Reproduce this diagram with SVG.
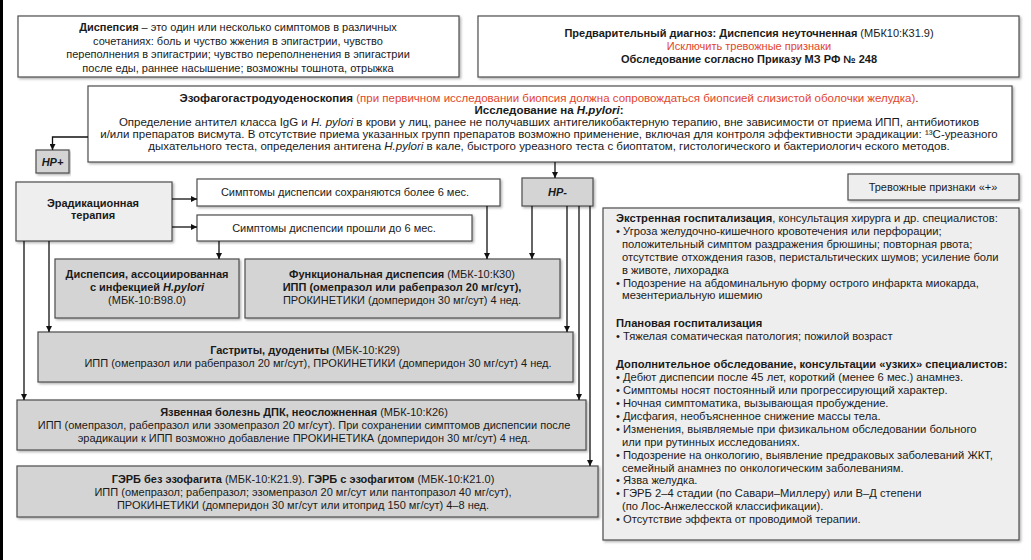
<svg xmlns="http://www.w3.org/2000/svg" width="1031" height="560" viewBox="0 0 1031 560">
<defs>
<marker id="ah" viewBox="0 0 10 10" refX="10" refY="5" markerWidth="6" markerHeight="6" markerUnits="userSpaceOnUse" orient="auto">
<path d="M0,0 L10,5 L0,10 z" fill="#111"/>
</marker>
<filter id="sh" x="-5%" y="-5%" width="110%" height="120%">
<feDropShadow dx="1.5" dy="1.5" stdDeviation="1" flood-color="#000" flood-opacity="0.3"/>
</filter>
<style>
text{font-family:"Liberation Sans",Arial,sans-serif;font-size:11px;fill:#1a1a1a}
.b{font-weight:bold}
.i{font-style:italic}
.r{fill:#e2452b}
.c{text-anchor:middle}
.m{font-size:11.5px}
.rt{font-size:11.2px}
.box{stroke:#4d4d4d;stroke-width:1.2;filter:url(#sh)}
.w{fill:#fff}
.g{fill:#d4d4d4}
.lg{fill:#eeeeee}
.conn path{fill:none;stroke:#111;stroke-width:1.3;marker-end:url(#ah)}
</style>
</defs>
<rect x="0" y="0" width="1031" height="560" fill="#fff"/>
<rect x="0" y="0" width="3" height="560" fill="#000"/>

<g id="definition">
<rect class="box w" x="18" y="16" width="441" height="61"/>
<text class="c" x="238" y="31"><tspan class="b">Диспепсия</tspan> – это один или несколько симптомов в различных</text>
<text class="c" x="238" y="44.5">сочетаниях: боль и чуство жжения в эпигастрии, чувство</text>
<text class="c" x="238" y="58">переполнения в эпигастрии; чувство переполненения в эпигастрии</text>
<text class="c" x="238" y="71.5">после еды, раннее насышение; возможны тошнота, отрыжка</text>
</g>

<g id="prelim">
<rect class="box w" x="478" y="16" width="541" height="61"/>
<text class="c" x="749" y="37"><tspan class="b">Предварительный диагноз: Диспепсия неуточненная</tspan> (МБК10:К31.9)</text>
<text class="c r" x="749" y="50">Исключить тревожные признаки</text>
<text class="c b" x="749" y="63">Обследование согласно Приказу МЗ РФ № 248</text>
</g>

<g id="egds">
<rect class="box w" x="88" y="86" width="924" height="76"/>
<text class="c m" x="549" y="102"><tspan class="b">Эзофагогастродуоденоскопия</tspan><tspan class="r"> (при первичном исследовании биопсия должна сопровождаться биопсией слизистой оболочки желудка)</tspan>.</text>
<text class="c m b" x="549" y="114">Исследование на <tspan class="i">H.pylori</tspan>:</text>
<text class="c m" x="549" y="126">Определение антител класса IgG и <tspan class="i">H. pylori</tspan> в крови у лиц, ранее не получавших антигеликобактерную терапию, вне зависимости от приема ИПП, антибиотиков</text>
<text class="c m" x="549" y="138">и/или препаратов висмута. В отсутствие приема указанных групп препаратов возможно применение, включая для контроля эффективности эрадикации: ¹³С-уреазного</text>
<text class="c m" x="549" y="150">дыхательного теста, определения антигена <tspan class="i">H.pylori</tspan> в кале, быстрого уреазного теста с биоптатом, гистологического и бактериологич еского методов.</text>
</g>

<g id="hp-plus">
<rect class="box g" x="36" y="150" width="33" height="23"/>
<text class="c b i" x="52.5" y="165.5">HP+</text>
</g>

<g id="hp-minus">
<rect class="box g" x="522" y="178" width="71" height="28"/>
<text class="c b i" x="557.5" y="196">HP-</text>
</g>

<g id="eradication">
<rect class="box lg" x="16" y="182" width="156" height="59"/>
<text class="c b" x="93" y="207">Эрадикационная</text>
<text class="c b" x="93" y="219">терапия</text>
</g>

<g id="symptoms-persist">
<rect class="box w" x="197" y="179" width="303" height="27"/>
<text class="c" x="345" y="196">Симптомы диспепсии сохраняются более 6 мес.</text>
</g>

<g id="symptoms-gone">
<rect class="box w" x="197" y="215" width="275" height="26"/>
<text class="c" x="334" y="232">Симптомы диспепсии прошли до 6 мес.</text>
</g>

<g id="hp-dyspepsia">
<rect class="box g" x="55" y="259" width="184" height="59"/>
<text class="c b" x="147" y="278">Диспепсия, ассоциированная</text>
<text class="c b" x="147" y="291">с инфекцией <tspan class="i">H.pylori</tspan></text>
<text class="c" x="147" y="304">(МБК-10:B98.0)</text>
</g>

<g id="functional">
<rect class="box g" x="245" y="259" width="315" height="59"/>
<text class="c" x="402" y="278"><tspan class="b">Функциональная диспепсия</tspan> (МБК-10:К30)</text>
<text class="c b" x="402" y="291">ИПП (омепразол или рабепразол 20 мг/сут),</text>
<text class="c" x="402" y="304">ПРОКИНЕТИКИ (домперидон 30 мг/сут) 4 нед.</text>
</g>

<g id="gastritis">
<rect class="box g" x="38" y="332" width="535" height="50"/>
<text class="c" x="305" y="354"><tspan class="b">Гастриты, дуодениты</tspan> (МБК-10:К29)</text>
<text class="c" x="318" y="367">ИПП (омепразол или рабепразол 20 мг/сут), ПРОКИНЕТИКИ (домперидон 30 мг/сут) 4 нед.</text>
</g>

<g id="ulcer">
<rect class="box g" x="17" y="400" width="569" height="50"/>
<text class="c" x="304" y="416"><tspan class="b">Язвенная болезнь ДПК, неосложненная</tspan> (МБК-10:К26)</text>
<text class="c" x="304" y="429">ИПП (омепразол, рабепразол или эзомепразол 20 мг/сут). При сохранении симптомов диспепсии после</text>
<text class="c" x="304" y="442">эрадикации к ИПП возможно добавление ПРОКИНЕТИКА (домперидон 30 мг/сут) 4 нед.</text>
</g>

<g id="gerd">
<rect class="box g" x="17" y="466" width="581" height="51"/>
<text class="c" x="303" y="483"><tspan class="b">ГЭРБ без эзофагита</tspan> (МБК-10:К21.9). <tspan class="b">ГЭРБ с эзофагитом</tspan> (МБК-10:К21.0)</text>
<text class="c" x="303" y="496">ИПП (омепразол; рабепразол; эзомепразол 20 мг/сут или пантопразол 40 мг/сут),</text>
<text class="c" x="303" y="509">ПРОКИНЕТИКИ (домперидон 30 мг/сут или итоприд 150 мг/сут) 4–8 нед.</text>
</g>

<g id="alarm">
<rect class="box lg" x="848" y="174" width="171" height="26"/>
<text class="c" x="933" y="191">Тревожные признаки «+»</text>
</g>

<g id="alarm-details">
<rect class="box lg" x="603" y="208" width="416" height="332"/>
<text class="rt" x="616" y="222"><tspan class="b">Экстренная госпитализация</tspan>, консультация хирурга и др. специалистов:</text>
<text class="rt" x="616" y="235">• Угроза желудочно-кишечного кровотечения или перфорации;</text>
<text class="rt" x="622" y="247.8">положительный симптом раздражения брюшины; повторная рвота;</text>
<text class="rt" x="622" y="260.7">отсутствие отхождения газов, перистальтических шумов; усиление боли</text>
<text class="rt" x="622" y="273.6">в животе, лихорадка</text>
<text class="rt" x="616" y="286.5">• Подозрение на абдоминальную форму острого инфаркта миокарда,</text>
<text class="rt" x="622" y="299.4">мезентериальную ишемию</text>
<text class="rt b" x="616" y="327.4">Плановая госпитализация</text>
<text class="rt" x="616" y="340.3">• Тяжелая соматическая патология; пожилой возраст</text>
<text class="rt b" x="616" y="368.3">Дополнительное обследование, консультации «узких» специалистов:</text>
<text class="rt" x="616" y="381.2">• Дебют диспепсии после 45 лет, короткий (менее 6 мес.) анамнез.</text>
<text class="rt" x="616" y="394.1">• Симптомы носят постоянный или прогрессирующий характер.</text>
<text class="rt" x="616" y="407">• Ночная симптоматика, вызывающая пробуждение.</text>
<text class="rt" x="616" y="419.9">• Дисфагия, необъясненное снижение массы тела.</text>
<text class="rt" x="616" y="432.8">• Изменения, выявляемые при физикальном обследовании больного</text>
<text class="rt" x="622" y="445.7">или при рутинных исследованиях.</text>
<text class="rt" x="616" y="458.6">• Подозрение на онкологию, выявление предраковых заболеваний ЖКТ,</text>
<text class="rt" x="622" y="471.5">семейный анамнез по онкологическим заболеваниям.</text>
<text class="rt" x="616" y="484.4">• Язва желудка.</text>
<text class="rt" x="616" y="497.3">• ГЭРБ 2–4 стадии (по Савари–Миллеру) или В–Д степени</text>
<text class="rt" x="622" y="510.2">(по Лос-Анжелесской классификации).</text>
<text class="rt" x="616" y="523.1">• Отсутствие эффекта от проводимой терапии.</text>
</g>

<g id="connectors" class="conn">
<path d="M88,137 H52.5 V150"/>
<path d="M555,162 V178"/>
<path d="M532,206 V259"/>
<path d="M567,206 V332"/>
<path d="M579,206 V400"/>
<path d="M590,206 V466"/>
<path d="M172,199 H197"/>
<path d="M172,227 H197"/>
<path d="M219,241 V259"/>
<path d="M487,206 V259"/>
<path d="M49,241 V332"/>
<path d="M24,241 V400"/>
</g>
</svg>
